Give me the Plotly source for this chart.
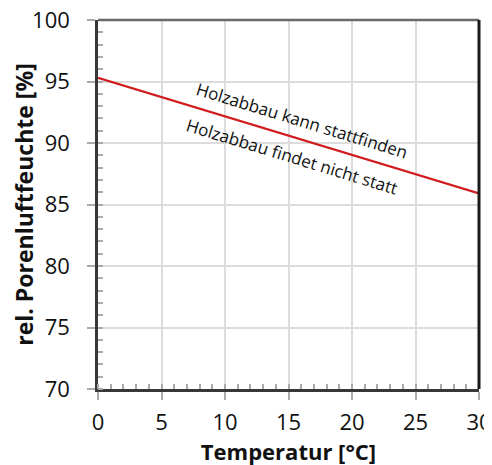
import plotly.graph_objects as go

temp = [0, 30]
rh = [95.3, 85.9]
label_above = "Holzabbau kann stattfinden"
label_below = "Holzabbau findet nicht statt"

fig = go.Figure()
fig.add_trace(go.Scatter(x=temp, y=rh, mode="lines",
                         line=dict(color="#d01c1f", width=2.2), showlegend=False))

fig.add_annotation(x=16.1, y=91.8, text=label_above, showarrow=False, textangle=17,
                   font=dict(family="Open Sans", size=17, color="#111"))
fig.add_annotation(x=15.3, y=88.9, text=label_below, showarrow=False, textangle=17,
                   font=dict(family="Open Sans", size=17, color="#111"))

axis_common = dict(showline=True, linecolor="#383838", linewidth=2.5,
                   showgrid=True, gridcolor="#dcdcdc", gridwidth=1.5,
                   ticks="outside", ticklen=8, tickcolor="#aaaaaa", tickwidth=1.5,
                   zeroline=False, automargin=False, ticklabeloverflow="allow",
                   tickfont=dict(family="Open Sans", size=22, color="#111"))

fig.update_xaxes(range=[0, 30], dtick=5, tick0=0, ticklabelstandoff=4, mirror=False,
                 minor=dict(dtick=1, ticks="inside", ticklen=5, tickcolor="#aaaaaa", showgrid=False),
                 title=dict(text="<b>Temperatur [°C]</b>", standoff=0,
                            font=dict(family="Open Sans", size=22, color="#111")),
                 **axis_common)
fig.update_yaxes(range=[70, 100], dtick=5, tick0=70, ticklabelstandoff=13, mirror=False,
                 minor=dict(dtick=1, ticks="inside", ticklen=5, tickcolor="#aaaaaa", showgrid=False),
                 title=dict(text="<b>rel. Porenluftfeuchte [%]</b>", standoff=0,
                            font=dict(family="Open Sans", size=23, color="#111")),
                 **axis_common)

# top border (grey) and right border (black) of the frame
fig.add_shape(type="line", xref="paper", yref="paper", x0=0, x1=1, y0=1, y1=1,
              line=dict(color="#6a6a6a", width=2.5), layer="above")
fig.add_shape(type="line", xref="paper", yref="paper", x0=1, x1=1, y0=0, y1=1,
              line=dict(color="#1a1a1a", width=3))

fig.update_layout(width=492, height=465, margin=dict(l=90, r=21, t=12, b=84),
                  plot_bgcolor="white", paper_bgcolor="white")
fig.write_html("out.html")
